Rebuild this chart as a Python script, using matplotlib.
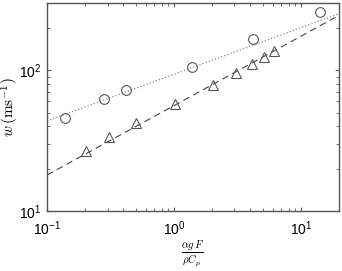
import numpy as np
import matplotlib
matplotlib.use("Agg")
import matplotlib.pyplot as plt

plt.rcParams['mathtext.fontset'] = 'cm'
plt.rcParams['font.family'] = ['Liberation Sans', 'DejaVu Sans']

# circles
x_circ = [0.139, 0.281, 0.42, 1.39, 4.19, 14.1]
y_circ = [45.7, 62.2, 72.1, 105, 166, 258]
# triangles
x_tri = [0.204, 0.306, 0.505, 1.02, 2.04, 3.08, 4.09, 5.12, 6.12]
y_tri = [26.7, 33.3, 42.3, 57.2, 78.3, 94.9, 110, 124, 136]
# fit lines (end points)
x_fit = [0.1, 20]
y_fit_dot = [43.6, 252]
y_fit_dash = [18.0, 245]

fig = plt.figure(figsize=(3.42, 2.71), dpi=100)
ax = fig.add_axes([47/342, 60/271, 292/342, 208/271])

ax.plot(x_fit, y_fit_dot, ls=':', color='#888888', lw=0.9)
ax.plot(x_fit, y_fit_dash, ls=(0, (6, 4)), color='#444444', lw=0.8)
ax.plot(x_circ, y_circ, 'o', mfc='none', mec='#555555', ms=7, mew=0.8)
ax.plot(x_tri, y_tri, '^', mfc='none', mec='#555555', ms=7.5, mew=0.8)

ax.set_xscale('log')
ax.set_yscale('log')
ax.set_xlim(0.1, 20)
ax.set_ylim(10, 300)

for s in ax.spines.values():
    s.set_color('#555555')
    s.set_linewidth(1.0)
ax.tick_params(which='both', direction='in', top=True, right=True,
               color='#555555', labelsize=10)
ax.tick_params(which='major', length=3, pad=4)
ax.tick_params(which='minor', length=2)
ax.tick_params(axis='x', which='major', pad=6)

ax.set_ylabel(r'$w\,(\mathrm{ms}^{-1})$', fontsize=11)
ax.yaxis.set_label_coords(-26/292, 0.5)
ax.set_xlabel(r'$\frac{\alpha g\,F}{\rho C_p}$', fontsize=11, labelpad=0)

fig.savefig('out.png', dpi=100)
